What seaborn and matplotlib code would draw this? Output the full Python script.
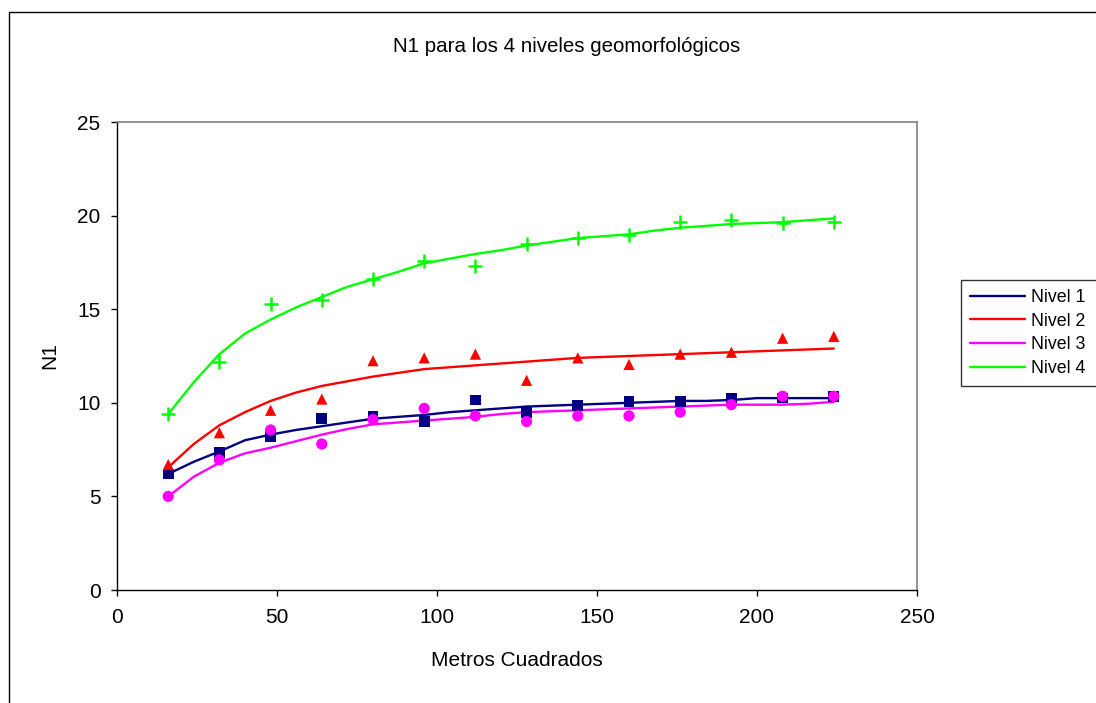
import numpy as np
import pandas as pd
import matplotlib
matplotlib.use("Agg")
import matplotlib.pyplot as plt
import matplotlib.patches as mpatches
from matplotlib.lines import Line2D
import seaborn as sns

# ---------------- data ----------------
series_names = ["Nivel 1", "Nivel 2", "Nivel 3", "Nivel 4"]

# observed points (markers)
obs_x = [16, 32, 48, 64, 80, 96, 112, 128, 144, 160, 176, 192, 208, 224]
obs_nivel1 = [6.2, 7.35, 8.2, 9.15, 9.3, 9.0, 10.15, 9.5, 9.85, 10.05, 10.05, 10.25, 10.25, 10.35]
obs_nivel2 = [6.7, 8.4, 9.6, 10.2, 12.25, 12.4, 12.6, 11.2, 12.4, 12.05, 12.6, 12.7, 13.45, 13.55]
obs_nivel3 = [5.0, 6.95, 8.55, 7.8, 9.1, 9.7, 9.3, 9.0, 9.3, 9.3, 9.5, 9.9, 10.35, 10.35]
obs_nivel4 = [9.4, 12.2, 15.3, 15.5, 16.6, 17.6, 17.3, 18.5, 18.8, 18.95, 19.65, 19.75, 19.6, 19.65]

# fitted curves (lines)
curve_x = [16, 24, 32, 40, 48, 56, 64, 72, 80, 88, 96, 104, 112, 120,
           128, 136, 144, 152, 160, 168, 176, 184, 192, 200, 208, 216, 224]
curve_nivel1 = [6.2, 6.85, 7.4, 8.0, 8.3, 8.55, 8.75, 8.95, 9.15, 9.25, 9.35, 9.5, 9.6, 9.7,
                9.8, 9.85, 9.9, 9.95, 10.0, 10.05, 10.1, 10.1, 10.15, 10.25, 10.25, 10.25, 10.25]
curve_nivel2 = [6.55, 7.8, 8.8, 9.5, 10.1, 10.55, 10.9, 11.15, 11.4, 11.6, 11.8, 11.9, 12.0, 12.1,
                12.2, 12.3, 12.4, 12.45, 12.5, 12.55, 12.6, 12.65, 12.7, 12.75, 12.8, 12.85, 12.9]
curve_nivel3 = [5.0, 6.05, 6.8, 7.3, 7.6, 7.95, 8.3, 8.6, 8.85, 8.95, 9.05, 9.15, 9.25, 9.4,
                9.5, 9.55, 9.6, 9.65, 9.7, 9.75, 9.8, 9.85, 9.9, 9.9, 9.9, 9.95, 10.05]
curve_nivel4 = [9.4, 11.1, 12.6, 13.7, 14.45, 15.1, 15.65, 16.2, 16.6, 17.0, 17.45, 17.7, 17.95, 18.15,
                18.4, 18.6, 18.8, 18.9, 19.0, 19.2, 19.35, 19.45, 19.55, 19.6, 19.65, 19.75, 19.85]

x_ticks = [0, 50, 100, 150, 200, 250]
y_ticks = [0, 5, 10, 15, 20, 25]

title = "N1 para los 4 niveles geomorfológicos"
x_label = "Metros Cuadrados"
y_label = "N1"

colors = {"Nivel 1": "#000080", "Nivel 2": "#FF0000", "Nivel 3": "#FF00FF", "Nivel 4": "#00FF00"}
markers = {"Nivel 1": "s", "Nivel 2": "^", "Nivel 3": "o", "Nivel 4": "P"}

obs_vals = [obs_nivel1, obs_nivel2, obs_nivel3, obs_nivel4]
curve_vals = [curve_nivel1, curve_nivel2, curve_nivel3, curve_nivel4]

obs_df = pd.concat([pd.DataFrame({"x": obs_x, "y": v, "serie": n})
                    for n, v in zip(series_names, obs_vals)], ignore_index=True)
curve_df = pd.concat([pd.DataFrame({"x": curve_x, "y": v, "serie": n})
                      for n, v in zip(series_names, curve_vals)], ignore_index=True)

# ---------------- style ----------------
sns.set_style("white")
plt.rcParams["font.family"] = ["Liberation Sans", "DejaVu Sans"]
plt.rcParams["font.size"] = 15
plt.rcParams["text.color"] = "black"

fig = plt.figure(figsize=(10.96, 7.03), dpi=100)
ax = fig.add_axes([117 / 1096, 1 - 590 / 703, 800 / 1096, 468 / 703])

# outer chart border
fig.patches.append(mpatches.Rectangle((9 / 1096, -0.05), 1.2, 1 - 12 / 703 + 0.05,
                                      transform=fig.transFigure, fill=False,
                                      edgecolor="black", linewidth=1.0, zorder=0))

sns.lineplot(data=curve_df, x="x", y="y", hue="serie", palette=colors,
             linewidth=1.7, ax=ax, legend=False, sort=False, estimator=None)

for n in series_names:
    sub = obs_df[obs_df["serie"] == n]
    if n == "Nivel 4":
        ax.scatter(sub["x"], sub["y"], marker="+", s=90, color=colors[n],
                   linewidths=1.8, zorder=4)
    else:
        size = {"Nivel 1": 60, "Nivel 2": 65, "Nivel 3": 65}[n]
        sns.scatterplot(data=sub, x="x", y="y", color=colors[n], marker=markers[n],
                        s=size, edgecolor="none", ax=ax, legend=False, zorder=4)

ax.set_xlim(0, 250)
ax.set_ylim(0, 25)
ax.set_xticks(x_ticks)
ax.set_yticks(y_ticks)
ax.tick_params(axis="both", direction="out", length=4.3, width=1, color="black",
               labelsize=15, labelcolor="black", bottom=True, left=True)
ax.tick_params(axis="x", pad=8.5)
ax.tick_params(axis="y", pad=7.5)

for side in ["top", "right"]:
    ax.spines[side].set_visible(True)
    ax.spines[side].set_color("#808080")
    ax.spines[side].set_linewidth(1.2)
for side in ["left", "bottom"]:
    ax.spines[side].set_color("black")
    ax.spines[side].set_linewidth(1.0)

ax.set_xlabel(x_label, fontsize=15, color="black")
ax.set_ylabel(y_label, fontsize=15, color="black")
ax.xaxis.set_label_coords(0.5, -(660 - 590) / 468)
ax.xaxis.label.set_va("center")
ax.yaxis.set_label_coords(-(117 - 50) / 800, 0.5)
ax.yaxis.label.set_va("center")

fig.text(567 / 1096, 1 - 46 / 703, title, ha="center", va="center", fontsize=14.8)

handles = [Line2D([0], [0], color=colors[n], lw=1.7) for n in series_names]
leg_h = 98 / 703
leg = fig.legend(handles, series_names, loc="upper left",
                 bbox_to_anchor=(961 / 1096, 1 - 280 / 703 - leg_h, 160 / 1096, leg_h),
                 mode="expand",
                 frameon=True, fancybox=False, edgecolor="black", fontsize=12.8,
                 handlelength=3.1, handletextpad=0.35, labelspacing=0.38,
                 borderpad=0.5, borderaxespad=0)
leg.get_frame().set_linewidth(1.0)

fig.savefig("out.png", dpi=100)
